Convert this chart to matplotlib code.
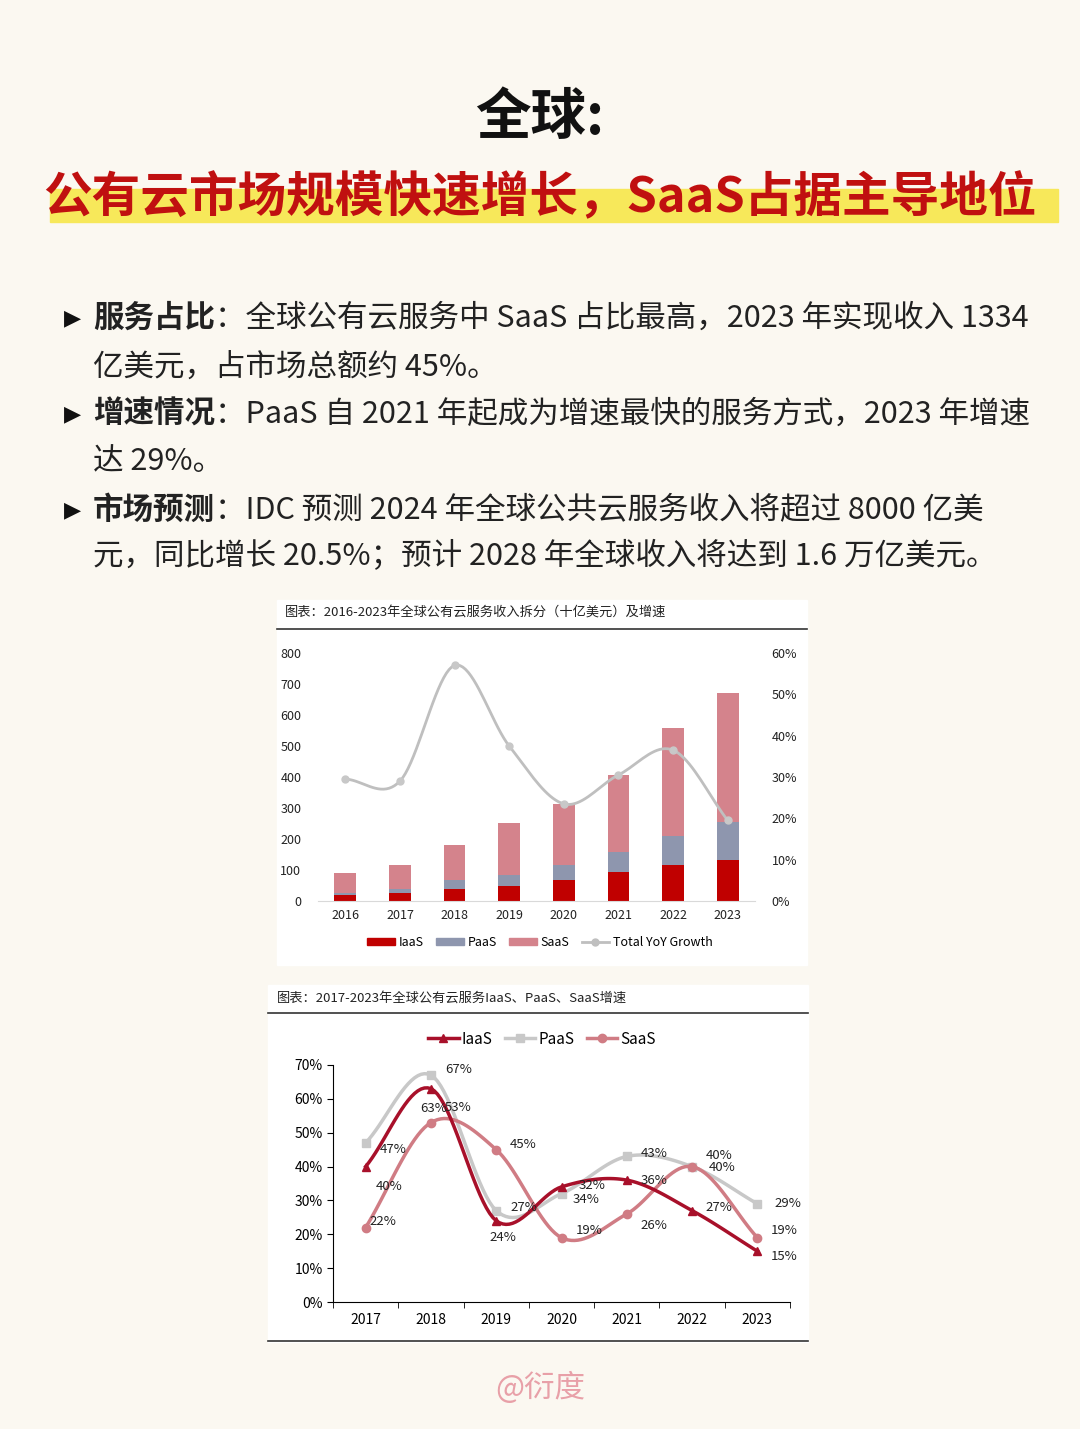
import numpy as np
import matplotlib
matplotlib.use("Agg")
import matplotlib.pyplot as plt
from matplotlib.patches import Rectangle
from matplotlib.lines import Line2D

plt.rcParams['font.family'] = ['Noto Sans CJK SC', 'DejaVu Sans']

years1 = ['2016','2017','2018','2019','2020','2021','2022','2023']
iaas_rev = [18, 25, 40, 50, 67, 92, 115, 133]
paas_rev = [8, 13, 28, 35, 48, 65, 95, 122]
saas_rev = [64, 79, 114, 167, 198, 251, 348, 415]
total_growth = [29.5, 29, 57, 37.5, 23.5, 30.5, 36.5, 19.5]

years2 = ['2017','2018','2019','2020','2021','2022','2023']
iaas_g = [40, 63, 24, 34, 36, 27, 15]
paas_g = [47, 67, 27, 32, 43, 40, 29]
saas_g = [22, 53, 45, 19, 26, 40, 19]

W, H = 1080, 1429
fig = plt.figure(figsize=(W/100, H/100), dpi=100)
fig.patch.set_facecolor('#fbf8f1')

def fx(x): return x / W
def fy(y): return 1 - y / H

def smooth(x, y, n=20):
    x = np.asarray(x, float); y = np.asarray(y, float)
    P = np.column_stack([x, y])
    P = np.vstack([P[0] - (P[1]-P[0]), P, P[-1] + (P[-1]-P[-2])])
    out = []
    for i in range(1, len(P)-2):
        p0, p1, p2, p3 = P[i-1], P[i], P[i+1], P[i+2]
        for t in np.linspace(0, 1, n, endpoint=False):
            t2, t3 = t*t, t*t*t
            out.append(0.5*((2*p1) + (-p0+p2)*t + (2*p0-5*p1+4*p2-p3)*t2 + (-p0+3*p1-3*p2+p3)*t3))
    out.append(P[-2])
    out = np.array(out)
    return out[:, 0], out[:, 1]

def panel(x0, y0, x1, y1, color):
    fig.patches.append(Rectangle((fx(x0), fy(y1)), fx(x1-x0), (y1-y0)/H, transform=fig.transFigure,
                                 color=color, zorder=-10))

# Titles
fig.text(0.5, fy(118), '全球:', ha='center', va='center', fontsize=40, fontweight='heavy', color='#111111')
panel(50, 189, 1058, 222, '#f7e85a')
fig.text(0.5, fy(198), '公有云市场规模快速增长，SaaS占据主导地位', ha='center', va='center',
         fontsize=35, fontweight='heavy', color='#c01010')

bul = [
    (318, [('服务占比', True), ('：全球公有云服务中 SaaS 占比最高，2023 年实现收入 1334', False)]),
    (367, [('亿美元，占市场总额约 45%。', False)]),
    (414, [('增速情况', True), ('：PaaS 自 2021 年起成为增速最快的服务方式，2023 年增速', False)]),
    (462, [('达 29%。', False)]),
    (510, [('市场预测', True), ('：IDC 预测 2024 年全球公共云服务收入将超过 8000 亿美', False)]),
    (557, [('元，同比增长 20.5%；预计 2028 年全球收入将达到 1.6 万亿美元。', False)]),
]
for y, parts in bul:
    if parts[0][1]:
        fig.text(fx(64), fy(y), '▶', ha='left', va='center', fontsize=16, color='#111111', family=['DejaVu Sans'])
    x = 93
    for s, b in parts:
        fig.text(fx(x), fy(y), s, ha='left', va='center', fontsize=22,
                 fontweight='bold' if b else 'normal', color='#222222')
        if b:
            x += 122

# Chart 1 panel
panel(277, 600, 807, 965, 'white')
fig.text(fx(285), fy(613), '图表：2016-2023年全球公有云服务收入拆分（十亿美元）及增速', fontsize=9.5, va='center', color='#222222')
fig.add_artist(Line2D([fx(277), fx(807)], [fy(629), fy(629)], color='#333333', lw=1.2))

ax1 = fig.add_axes([fx(318), fy(901), fx(755-318), (901-653)/H])
ax1.set_facecolor('none')
x = np.arange(len(years1))
bw = 0.4
ax1.bar(x, iaas_rev, bw, color='#c00000', label='IaaS')
ax1.bar(x, paas_rev, bw, bottom=iaas_rev, color='#8e96ae', label='PaaS')
ax1.bar(x, saas_rev, bw, bottom=np.add(iaas_rev, paas_rev), color='#d4838c', label='SaaS')
ax1.set_ylim(0, 800)
ax1.set_yticks(range(0, 801, 100))
ax1.set_xlim(-0.5, len(years1)-0.5)
ax1.set_xticks(x, years1)
for s in ['top', 'right', 'left']:
    ax1.spines[s].set_visible(False)
ax1.spines['bottom'].set_color('#d9d9d9')
ax1.tick_params(length=0, labelsize=9, colors='#222222')
ax1.tick_params(axis='y', pad=12)
ax1.tick_params(axis='x', pad=6)
ax1b = ax1.twinx()
sx, sy = smooth(x, total_growth)
ax1b.plot(sx, sy, color='#bfbfbf', lw=2)
ax1b.plot(x, total_growth, 'o', color='#c8c8c8', ms=5, label='Total YoY Growth')
ax1b.set_ylim(0, 60)
ax1b.set_yticks(range(0, 61, 10), [f'{v}%' for v in range(0, 61, 10)])
for s in ['top', 'right', 'left', 'bottom']:
    ax1b.spines[s].set_visible(False)
ax1b.tick_params(length=0, labelsize=9, colors='#222222', pad=12)
h = [Rectangle((0,0),1,1,color='#c00000'), Rectangle((0,0),1,1,color='#8e96ae'),
     Rectangle((0,0),1,1,color='#d4838c'),
     Line2D([], [], color='#bfbfbf', marker='o', ms=5, lw=2)]
fig.legend(h, ['IaaS', 'PaaS', 'SaaS', 'Total YoY Growth'], loc='center', bbox_to_anchor=(fx(540), fy(942)),
           ncol=4, frameon=False, fontsize=9, handlelength=2.2, handleheight=0.5, columnspacing=1.0, handletextpad=0.3)

# Chart 2 panel
panel(268, 985, 808, 1342, 'white')
fig.text(fx(277), fy(998), '图表：2017-2023年全球公有云服务IaaS、PaaS、SaaS增速', fontsize=9.5, va='center', color='#222222')
fig.add_artist(Line2D([fx(268), fx(808)], [fy(1013), fy(1013)], color='#333333', lw=1.2))
fig.add_artist(Line2D([fx(268), fx(808)], [fy(1341), fy(1341)], color='#333333', lw=1.2))

ax2 = fig.add_axes([fx(333), fy(1302), fx(790-333), (1302-1065)/H])
ax2.set_facecolor('none')
x2 = np.arange(len(years2))
series = [(paas_g, '#c8c8c8', 's', 'PaaS'), (saas_g, '#d07c84', 'o', 'SaaS'), (iaas_g, '#a8102a', '^', 'IaaS')]
for vals, c, m, lab in series:
    sx, sy = smooth(x2, vals)
    ax2.plot(sx, sy, color=c, lw=2.5)
    ax2.plot(x2, vals, m, color=c, ms=6)
offs = {'IaaS': [(7,-14),(-8,-14),(-5,-12),(8,-9),(10,0),(10,2),(10,-4)],
        'PaaS': [(10,-5),(10,4),(10,2),(12,6),(10,2),(10,8),(12,0)],
        'SaaS': [(3,4),(10,11),(10,4),(10,5),(10,-8),(12,-1),(10,5)]}
for vals, c, m, lab in series:
    for i, v in enumerate(vals):
        ax2.annotate(f'{v}%', (x2[i], v), xytext=offs[lab][i], textcoords='offset points',
                     fontsize=9.5, va='center', ha='left', color='#222222')
ax2.set_ylim(0, 70)
ax2.set_yticks(range(0, 71, 10), [f'{v}%' for v in range(0, 71, 10)])
ax2.set_xlim(-0.5, len(years2)-0.5)
ax2.set_xticks(x2, years2)
ax2.set_xticks(np.arange(-0.5, len(years2), 1), minor=True)
for s in ['top', 'right']:
    ax2.spines[s].set_visible(False)
ax2.tick_params(axis='x', which='major', length=0, labelsize=10, pad=8)
ax2.tick_params(axis='x', which='minor', length=4)
ax2.tick_params(axis='y', labelsize=10, length=4)
h2 = [Line2D([], [], color='#a8102a', marker='^', lw=2.5, ms=6),
      Line2D([], [], color='#c8c8c8', marker='s', lw=2.5, ms=6),
      Line2D([], [], color='#d07c84', marker='o', lw=2.5, ms=6)]
fig.legend(h2, ['IaaS', 'PaaS', 'SaaS'], loc='center', bbox_to_anchor=(fx(542), fy(1039)), ncol=3,
           frameon=False, fontsize=11, handlelength=2.0, columnspacing=0.8, handletextpad=0.2)

fig.text(0.5, fy(1388), '@衍度', ha='center', va='center', fontsize=22, color='#e8a0a8')

fig.savefig('out.png', dpi=100, facecolor=fig.get_facecolor())
